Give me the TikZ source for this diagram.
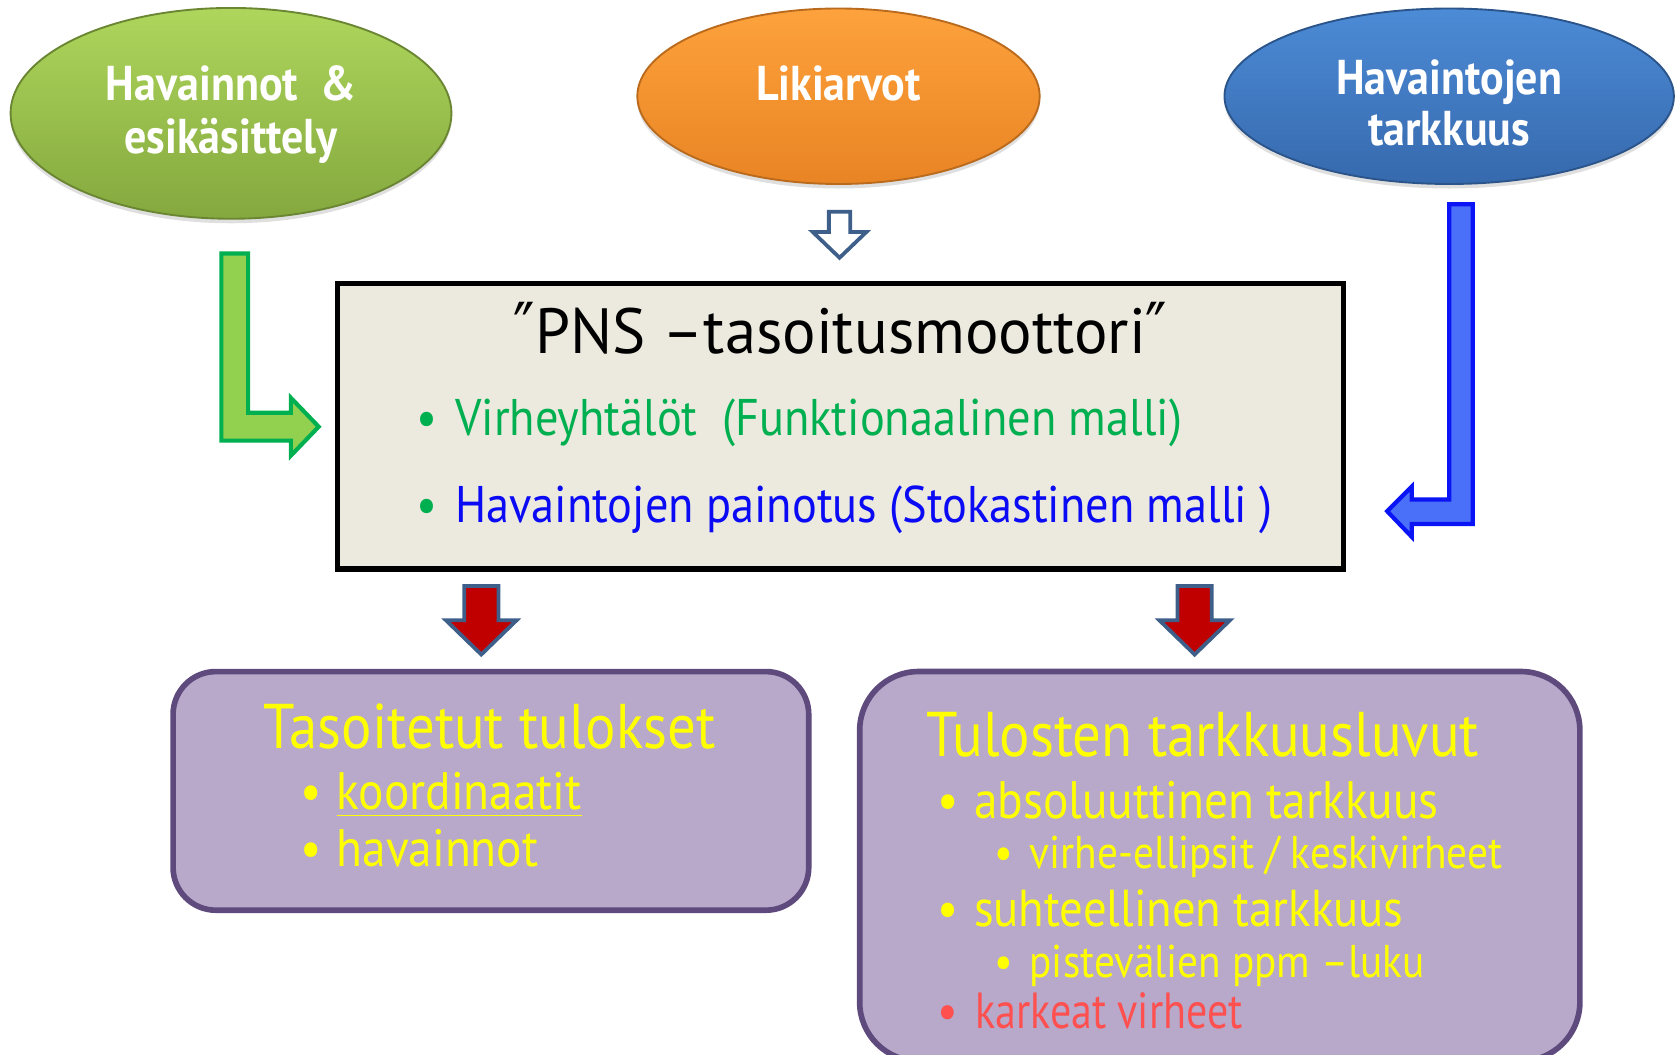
\documentclass[tikz,border=0pt]{standalone}
\usepackage{fontspec}
\setmainfont{PT Sans}[FakeStretch=0.9]
\newfontfamily\titlefont{PT Sans}[FakeStretch=0.98]
\newfontfamily\symfont{DejaVu Sans}
\usepackage{tikz}
\usetikzlibrary{positioning,calc,shapes.geometric,shadows}
\usepackage{xcolor}

\definecolor{leaftop}{HTML}{AED65C}
\definecolor{leafbot}{HTML}{84A83E}
\definecolor{orangetop}{HTML}{FDA23C}
\definecolor{orangebot}{HTML}{E98424}
\definecolor{bluetop}{HTML}{4C8BD6}
\definecolor{bluebot}{HTML}{3669AD}
\definecolor{enginefill}{HTML}{ECEADF}
\definecolor{resfill}{HTML}{B8A9CB}
\definecolor{resedge}{HTML}{5E4A7C}
\definecolor{textgreen}{HTML}{00B050}
\definecolor{textblue}{HTML}{0A0AF5}
\definecolor{textyellow}{HTML}{FFFF00}
\definecolor{textred}{HTML}{FF5050}
\definecolor{arrowedge}{HTML}{3E5F8A}
\definecolor{arrowred}{HTML}{C00000}
\definecolor{greenfill}{HTML}{92D050}
\definecolor{bluefill}{HTML}{4A70FA}
\definecolor{blueedge}{HTML}{0A14F5}

\newcommand{\bul}[2]{\makebox[#2][l]{\textcolor{#1}{\textbullet}}}
\newcommand{\fs}[1]{\fontsize{#1}{1.2\dimexpr#1pt\relax}\selectfont}
\newcommand{\dq}{{\symfont\scalebox{0.9}[1.1]{″}}}

\begin{document}
\begin{tikzpicture}[x=0.01cm,y=-0.01cm,
    blob/.style={ellipse,draw=#1,line width=0.5pt,inner sep=0pt,
      drop shadow={opacity=0.25,shadow xshift=0pt,shadow yshift=-1.2pt}},
    blobtext/.style={text=white,font=\fs{13}\bfseries,align=center},
    engine/.style={rectangle,draw=black,line width=1.4pt,fill=enginefill,
      minimum width=9.4cm,minimum height=2.67cm},
    resbox/.style={rectangle,draw=resedge,line width=1.5pt,fill=resfill},
    item/.style={anchor=base west,inner sep=0pt},
    head/.style={anchor=base,inner sep=0pt},
    hollow/.style={draw=arrowedge,line width=1pt,fill=white},
    redblock/.style={draw=arrowedge,line width=1pt,fill=arrowred},
    greenblock/.style={draw=textgreen,line width=1.1pt,fill=greenfill},
    blueblock/.style={draw=blueedge,line width=1.1pt,fill=bluefill}]

\useasboundingbox (0,0) rectangle (1568,986);

% Inputs
\node[blob=leafbot!80!black,top color=leaftop,bottom color=leafbot,
  minimum width=4.12cm,minimum height=1.97cm] (havainnot) at (216,106) {};
\node[blobtext] (havtxt) at (216,107) {Havainnot\ \ \&\\[-1.5pt]esikäsittely};

\node[blob=orangebot!80!black,top color=orangetop,bottom color=orangebot,
  minimum width=3.76cm,minimum height=1.64cm] (likiarvot) at (784,90) {};
\node[blobtext] (liktxt) at (784,78) {Likiarvot};

\node[blob=bluebot!80!black,top color=bluetop,bottom color=bluebot,
  minimum width=4.2cm,minimum height=1.64cm] (tarkkuus) at (1355,90) {};
\node[blobtext] (tartxt) at (1355,96) {Havaintojen\\[-2pt]tarkkuus};

% Engine
\node[engine] (engine) at (786,398.5) {};
\node[head,font=\fs{17}\titlefont] (title) at (786,331) {\dq PNS –tasoitusmoottori\dq};
\node[item,font=\fs{13.7},text=textgreen] (virhe) at (389,407)
  {\bul{textgreen}{0.36cm}Virheyhtälöt\ \ (Funktionaalinen malli)};
\node[item,font=\fs{13.7},text=textblue] (paino) at (389,489)
  {\bul{textgreen}{0.36cm}Havaintojen painotus (Stokastinen malli )};

% Block arrows
\draw[hollow] (775,198) -- (795,198) -- (795,217) -- (810,217) -- (785,241)
  -- (760,217) -- (775,217) -- cycle;
\draw[greenblock] (207,237) -- (232,237) -- (232,386) -- (272,386) -- (272,372)
  -- (298,399) -- (272,426) -- (272,412) -- (207,412) -- cycle;
\draw[blueblock] (1355,191) -- (1377,191) -- (1377,490) -- (1320,490) -- (1320,502)
  -- (1297,478) -- (1320,455) -- (1320,467) -- (1355,467) -- cycle;
\foreach \cx in {450,1117}
  \draw[redblock] ({\cx-16},548) -- ({\cx+16},548) -- ({\cx+16},580) -- ({\cx+33},580)
    -- (\cx,612) -- ({\cx-33},580) -- ({\cx-16},580) -- cycle;

% Results
\node[resbox,rounded corners=0.4cm,minimum width=5.94cm,minimum height=2.23cm]
  (tulokset) at (459,739.5) {};
\node[head,font=\fs{16.8},text=textyellow] (tultitle) at (458,700) {Tasoitetut tulokset};
\node[item,font=\fs{14},text=textyellow] (koord) at (280,757)
  {\bul{textyellow}{0.34cm}\underline{koordinaatit}};
\node[item,font=\fs{14},text=textyellow] (hav) at (280,810)
  {\bul{textyellow}{0.34cm}havainnot};

\node[resbox,rounded corners=0.55cm,minimum width=6.73cm,minimum height=3.64cm]
  (luvut) at (1140.5,810) {};
\node[item,font=\fs{16.8},text=textyellow] (lutitle) at (866,707) {Tulosten tarkkuusluvut};
\node[item,font=\fs{14},text=textyellow] (abs) at (876,765)
  {\bul{textyellow}{0.34cm}absoluuttinen tarkkuus};
\node[item,font=\fs{12.2},text=textyellow] (ell) at (929,812)
  {\bul{textyellow}{0.33cm}virhe-ellipsit / keskivirheet};
\node[item,font=\fs{13.8},text=textyellow] (suht) at (876,866)
  {\bul{textyellow}{0.34cm}suhteellinen tarkkuus};
\node[item,font=\fs{12.2},text=textyellow] (ppm) at (929,914)
  {\bul{textyellow}{0.33cm}pistevälien ppm –luku};
\node[item,font=\fs{13.5},text=textred] (karkeat) at (876,962)
  {\bul{textred}{0.35cm}\scalebox{0.92}[1]{karkeat virheet}};

\end{tikzpicture}
\end{document}
